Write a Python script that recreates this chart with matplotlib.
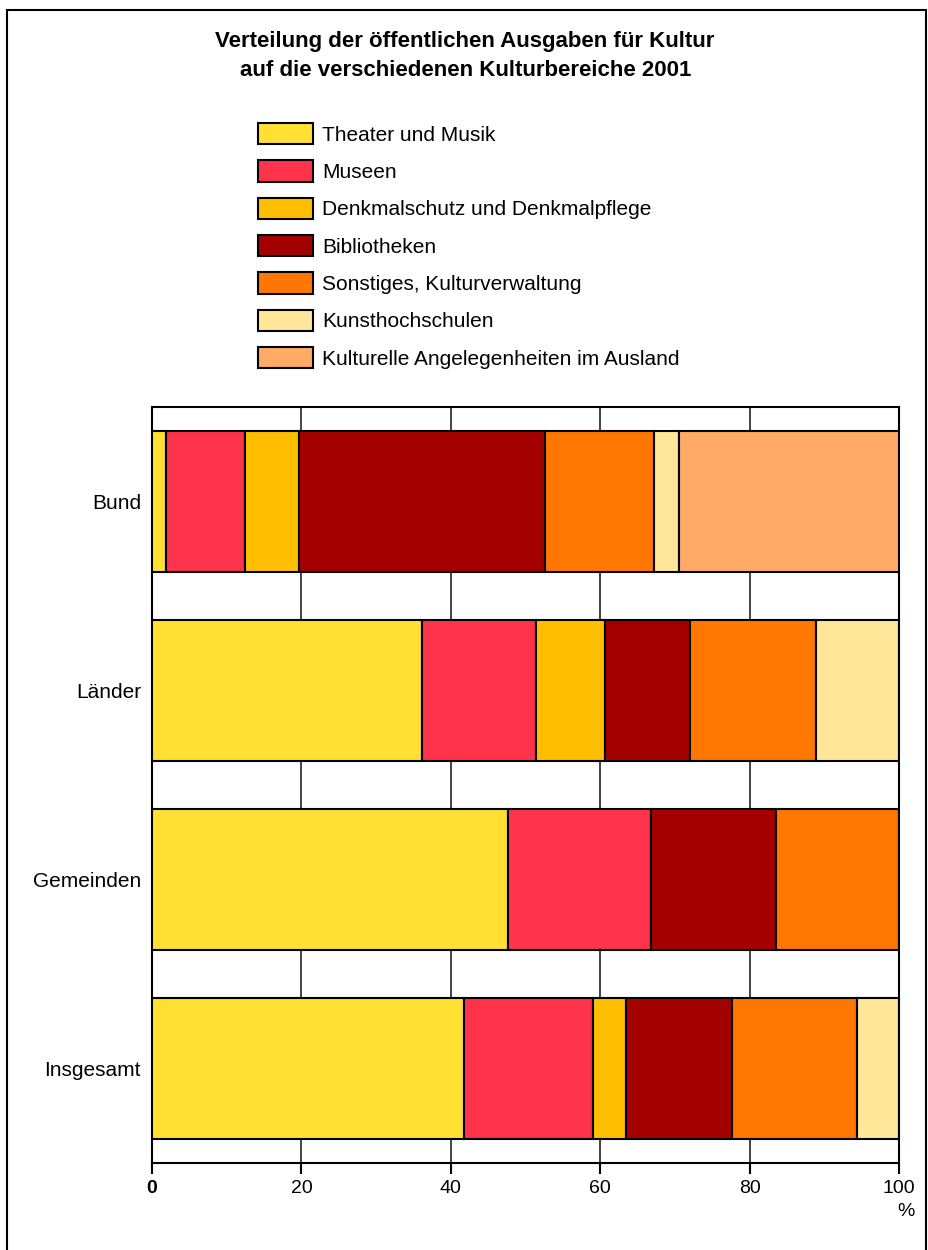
import numpy as np
import matplotlib.pyplot as plt
from matplotlib.patches import Rectangle

plt.rcParams['font.family'] = ['Liberation Sans', 'DejaVu Sans']

# Kategorien (von oben nach unten)
bereiche = ['Bund', 'Länder', 'Gemeinden', 'Insgesamt']

# Anteile in % je Kulturbereich
theater = [1.9, 36.1, 47.6, 41.8]
museen = [10.5, 15.3, 19.2, 17.3]
denkmal = [7.3, 9.2, 0.0, 4.4]
bibliotheken = [32.9, 11.4, 16.7, 14.2]
sonstiges = [14.6, 16.9, 16.5, 16.7]
hochschulen = [3.4, 11.1, 0.0, 5.6]
ausland = [29.4, 0.0, 0.0, 0.0]

namen = ['Theater und Musik', 'Museen', 'Denkmalschutz und Denkmalpflege',
         'Bibliotheken', 'Sonstiges, Kulturverwaltung', 'Kunsthochschulen',
         'Kulturelle Angelegenheiten im Ausland']
farben = ['#FFE033', '#FF334C', '#FFBF00', '#A50000', '#FF7700', '#FFE699', '#FFAA66']
reihen = [theater, museen, denkmal, bibliotheken, sonstiges, hochschulen, ausland]

fig = plt.figure(figsize=(9.29, 12.5), dpi=100)
ax = fig.add_axes([152 / 929, 1 - 1163 / 1250, 747 / 929, 756 / 1250])

y = np.arange(len(bereiche))
links = np.zeros(len(bereiche))
balken = []
for werte, farbe, name in zip(reihen, farben, namen):
    werte = np.array(werte)
    b = ax.barh(y, werte, left=links, height=0.75, color=farbe,
                edgecolor='black', linewidth=1.5, label=name, zorder=3)
    balken.append(b)
    links += werte

ax.set_xlim(0, 100)
ax.set_ylim(3.5, -0.5)
ax.set_xticks([0, 20, 40, 60, 80, 100])
ax.set_xticklabels(['0', '20', '40', '60', '80', '100'], fontsize=14)
ax.get_xticklabels()[0].set_fontweight('bold')
ax.set_yticks(y)
ax.set_yticklabels(bereiche, fontsize=15)
ax.tick_params(axis='y', length=0, pad=8)
ax.tick_params(axis='x', length=8, width=1.5, pad=4)
ax.xaxis.grid(True, color='#222222', linewidth=1.2, zorder=0)
ax.set_axisbelow(True)
for s in ax.spines.values():
    s.set_linewidth(1.5)

# Einheit unter der letzten Skalenbeschriftung
ax.annotate('%', xy=(1, 0), xycoords='axes fraction', xytext=(16, -49),
            textcoords='offset pixels', ha='right', va='center', fontsize=14)

fig.text(0.5, 1 - 42 / 1250, 'Verteilung der öffentlichen Ausgaben für Kultur',
         ha='center', va='center', fontsize=16, fontweight='bold')
fig.text(0.501, 1 - 70 / 1250, 'auf die verschiedenen Kulturbereiche 2001',
         ha='center', va='center', fontsize=16, fontweight='bold')

fig.legend(handles=balken, labels=namen, loc='upper left',
           bbox_to_anchor=(258 / 929, 1 - 123 / 1250), frameon=False,
           fontsize=15, handlelength=2.64, handleheight=1.2,
           handletextpad=0.45, labelspacing=0.75, borderpad=0, borderaxespad=0)

fig.patches.append(Rectangle((7 / 929, -0.1), 919 / 929, 1.1 - 10 / 1250,
                             transform=fig.transFigure, fill=False,
                             edgecolor='black', linewidth=1.5))

fig.savefig('out.png', dpi=100)
